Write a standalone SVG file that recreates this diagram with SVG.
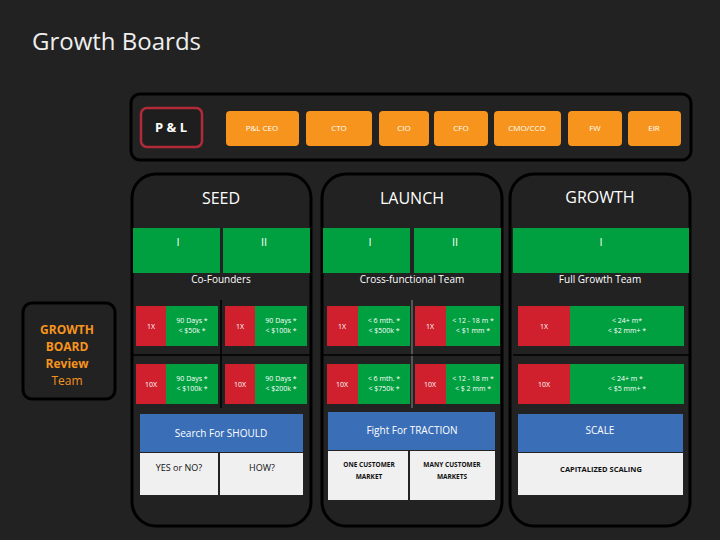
<svg xmlns="http://www.w3.org/2000/svg" width="720" height="540" viewBox="0 0 720 540">
<style>
text{font-family:"Open Sans","Liberation Sans",sans-serif;fill:#fff;text-anchor:middle}
.or{fill:#f7941d}
.ot{font-size:8px}
.panel{fill:#222;stroke:#000;stroke-width:3}
.g{fill:#00a040}
.r{fill:#d0202e}
.b{fill:#3a6fb8}
.w{fill:#f0f0f0}
.s{font-size:7px}
.dk{fill:#111}
</style>
<rect width="720" height="540" fill="#222"/>
<text x="32" y="50" style="font-size:24px;text-anchor:start;fill:#eee">Growth Boards</text>
<g id="topbar">
<rect x="131" y="94" width="560" height="66" rx="9" class="panel"/>
<rect x="141" y="108" width="61" height="39" rx="6" fill="#1e1e1e" stroke="#b02a37" stroke-width="2.5"/>
<text x="171" y="132" style="font-size:13px;font-weight:bold">P &amp; L</text>
<rect x="226" y="111" width="73" height="35" rx="4" class="or"/><text x="262" y="131" class="ot">P&amp;L CEO</text>
<rect x="306" y="111" width="66" height="35" rx="4" class="or"/><text x="339" y="131" class="ot">CTO</text>
<rect x="379" y="111" width="50" height="35" rx="4" class="or"/><text x="404" y="131" class="ot">CIO</text>
<rect x="434" y="111" width="54" height="35" rx="4" class="or"/><text x="461" y="131" class="ot">CFO</text>
<rect x="494" y="111" width="67" height="35" rx="4" class="or"/><text x="527" y="131" class="ot">CMO/CCO</text>
<rect x="568" y="111" width="54" height="35" rx="4" class="or"/><text x="595" y="131" class="ot">FW</text>
<rect x="628" y="111" width="53" height="35" rx="4" class="or"/><text x="654" y="131" class="ot">EIR</text>
</g>
<g id="review">
<rect x="23" y="303" width="92" height="96" rx="9" class="panel"/>
<text x="67" y="334" class="or" style="font-size:12px;font-weight:bold">GROWTH</text>
<text x="67" y="351" class="or" style="font-size:12px;font-weight:bold">BOARD</text>
<text x="67" y="368" class="or" style="font-size:12px;font-weight:bold">Review</text>
<text x="67" y="385" class="or" style="font-size:12px">Team</text>
</g>
<g id="seed">
<rect x="132" y="174" width="179" height="352" rx="24" class="panel"/>
<text x="221" y="204" style="font-size:16px">SEED</text>
<rect x="133" y="228" width="87" height="45" class="g"/><rect x="223" y="228" width="87" height="45" class="g"/>
<text x="178" y="246" style="font-size:11px">I</text><text x="264" y="246" style="font-size:11px">II</text>
<text x="221" y="283" style="font-size:10px">Co-Founders</text>
<line x1="221" y1="300" x2="221" y2="408" stroke="#000" stroke-width="1.5"/>
<line x1="133" y1="355" x2="310" y2="355" stroke="#000" stroke-width="1.5"/>
<rect x="136" y="306" width="30" height="40" class="r"/><rect x="166" y="306" width="52" height="40" class="g"/>
<text x="151" y="329" class="s">1X</text><text x="192" y="323" class="s">90 Days *</text><text x="192" y="333" class="s">&lt; $50k *</text>
<rect x="225" y="306" width="30" height="40" class="r"/><rect x="255" y="306" width="52" height="40" class="g"/>
<text x="240" y="329" class="s">1X</text><text x="281" y="323" class="s">90 Days *</text><text x="281" y="333" class="s">&lt; $100k *</text>
<rect x="136" y="364" width="30" height="40" class="r"/><rect x="166" y="364" width="52" height="40" class="g"/>
<text x="151" y="387" class="s">10X</text><text x="192" y="381" class="s">90 Days *</text><text x="192" y="391" class="s">&lt; $100k *</text>
<rect x="225" y="364" width="30" height="40" class="r"/><rect x="255" y="364" width="52" height="40" class="g"/>
<text x="240" y="387" class="s">10X</text><text x="281" y="381" class="s">90 Days *</text><text x="281" y="391" class="s">&lt; $200k *</text>
<rect x="140" y="414" width="163" height="38" class="b"/>
<text x="221" y="437" style="font-size:10px">Search For SHOULD</text>
<rect x="140" y="453" width="78" height="42" class="w"/><rect x="220" y="453" width="83" height="42" class="w"/>
<text x="179" y="471" class="dk" style="font-size:9px">YES or NO?</text><text x="262" y="471" class="dk" style="font-size:9px">HOW?</text>
</g>
<g id="launch">
<rect x="322" y="174" width="180" height="352" rx="24" class="panel"/>
<text x="412" y="204" style="font-size:16px">LAUNCH</text>
<rect x="323" y="228" width="87" height="45" class="g"/><rect x="414" y="228" width="87" height="45" class="g"/>
<text x="370" y="246" style="font-size:11px">I</text><text x="455" y="246" style="font-size:11px">II</text>
<text x="412" y="283" style="font-size:10px">Cross-functional Team</text>
<line x1="412" y1="300" x2="412" y2="408" stroke="#888" stroke-width="1"/>
<line x1="323" y1="355" x2="501" y2="355" stroke="#000" stroke-width="1.5"/>
<rect x="327" y="306" width="31" height="40" class="r"/><rect x="358" y="306" width="52" height="40" class="g"/>
<text x="342" y="329" class="s">1X</text><text x="384" y="323" class="s">&lt; 6 mth. *</text><text x="384" y="333" class="s">&lt; $500k *</text>
<rect x="415" y="306" width="31" height="40" class="r"/><rect x="446" y="306" width="54" height="40" class="g"/>
<text x="430" y="329" class="s">1X</text><text x="473" y="323" class="s">&lt; 12 - 18 m *</text><text x="473" y="333" class="s">&lt; $1 mm *</text>
<rect x="327" y="364" width="31" height="40" class="r"/><rect x="358" y="364" width="52" height="40" class="g"/>
<text x="342" y="387" class="s">10X</text><text x="384" y="381" class="s">&lt; 6 mth. *</text><text x="384" y="391" class="s">&lt; $750k *</text>
<rect x="415" y="364" width="31" height="40" class="r"/><rect x="446" y="364" width="54" height="40" class="g"/>
<text x="430" y="387" class="s">10X</text><text x="473" y="381" class="s">&lt; 12 - 18 m *</text><text x="473" y="391" class="s">&lt; $ 2 mm *</text>
<rect x="328" y="412" width="167" height="38" class="b"/>
<text x="412" y="434" style="font-size:10px">Fight For TRACTION</text>
<rect x="328" y="451" width="80" height="49" class="w"/><rect x="410" y="451" width="85" height="49" class="w"/>
<text x="369" y="467" class="dk" style="font-size:6.5px;font-weight:bold">ONE CUSTOMER</text><text x="369" y="479" class="dk" style="font-size:6.5px;font-weight:bold">MARKET</text>
<text x="452" y="467" class="dk" style="font-size:6.5px;font-weight:bold">MANY CUSTOMER</text><text x="452" y="479" class="dk" style="font-size:6.5px;font-weight:bold">MARKETS</text>
</g>
<g id="growth">
<rect x="510" y="174" width="180" height="352" rx="24" class="panel"/>
<text x="600" y="203" style="font-size:16px">GROWTH</text>
<rect x="513" y="228" width="176" height="45" class="g"/>
<text x="601" y="246" style="font-size:11px">I</text>
<text x="600" y="283" style="font-size:10px">Full Growth Team</text>
<line x1="513" y1="355" x2="689" y2="355" stroke="#000" stroke-width="1.5"/>
<rect x="518" y="306" width="52" height="40" class="r"/><rect x="570" y="306" width="114" height="40" class="g"/>
<text x="544" y="329" class="s">1X</text><text x="627" y="323" class="s">&lt; 24+ m*</text><text x="627" y="333" class="s">&lt; $2 mm+ *</text>
<rect x="518" y="364" width="52" height="40" class="r"/><rect x="570" y="364" width="114" height="40" class="g"/>
<text x="544" y="387" class="s">10X</text><text x="627" y="381" class="s">&lt; 24+ m *</text><text x="627" y="391" class="s">&lt; $5 mm+ *</text>
<rect x="518" y="414" width="165" height="38" class="b"/>
<text x="600" y="434" style="font-size:10px">SCALE</text>
<rect x="518" y="453" width="165" height="42" class="w"/>
<text x="601" y="472" class="dk" style="font-size:7.5px;font-weight:bold">CAPITALIZED SCALING</text>
</g>
</svg>
